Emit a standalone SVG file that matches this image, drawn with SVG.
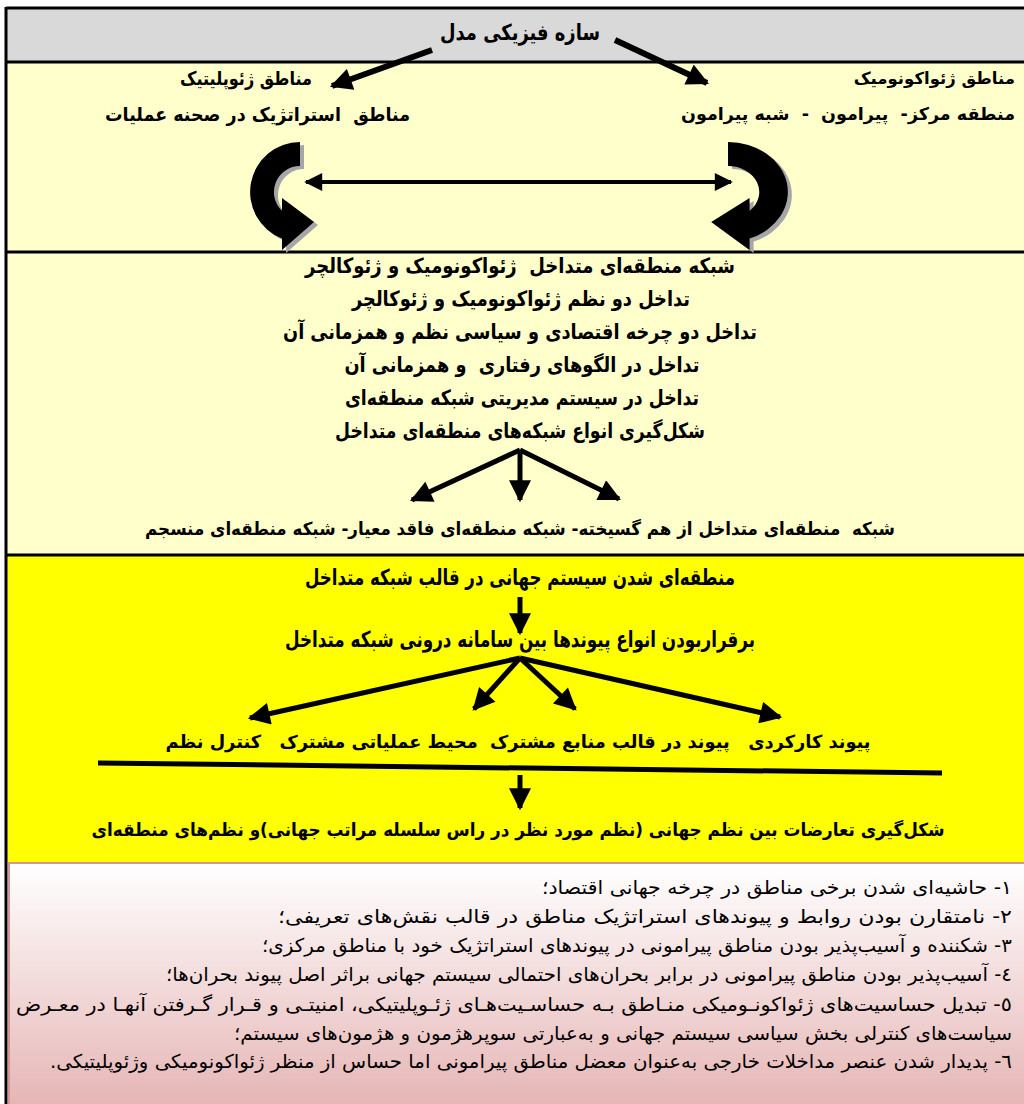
<svg xmlns="http://www.w3.org/2000/svg" width="1024" height="1104" viewBox="0 0 1024 1104">
<defs>
<style>
.b{font-family:"DejaVu Sans",sans-serif;font-weight:bold;fill:#000;direction:rtl}
.t1{font-size:22px}
.t2{font-size:19px}
.t3{font-size:21px}
.t4{font-size:22px}
.r{font-family:"DejaVu Sans",sans-serif;font-size:19px;fill:#000;direction:rtl}
.ln{stroke:#000;fill:none}
</style>
<linearGradient id="pg" x1="0" y1="0" x2="0" y2="1">
<stop offset="0" stop-color="#ffffff"/>
<stop offset="1" stop-color="#e5b3b3"/>
</linearGradient>
<marker id="ah" viewBox="0 0 10 10" refX="9" refY="5" markerUnits="userSpaceOnUse" markerWidth="24" markerHeight="22" orient="auto">
<path d="M0,0 L10,5 L0,10 Z" fill="#000"/>
</marker>
<marker id="ahs" viewBox="0 0 10 10" refX="9" refY="5" markerUnits="userSpaceOnUse" markerWidth="20" markerHeight="18" orient="auto-start-reverse">
<path d="M0,0 L10,5 L0,10 Z" fill="#000"/>
</marker>
<path id="curl" d="M300,142 A50,50 0 0 0 282,238.6 L282,250 L314,222 L282,198 L282,210.8 A26,26 0 0 1 300,166 Z"/>
</defs>

<g id="panels">
<rect x="6" y="8" width="1030" height="54" fill="#d9d9d9"/>
<rect x="6" y="62" width="1030" height="190" fill="#ffffcc"/>
<rect x="6" y="252" width="1030" height="303" fill="#ffffcc"/>
<rect x="6" y="555" width="1030" height="307" fill="#ffff00"/>
<rect x="9" y="863" width="1030" height="250" fill="url(#pg)" stroke="#d99594" stroke-width="2"/>
<line x1="6" y1="8" x2="1024" y2="8" stroke="#000" stroke-width="3"/>
<line x1="6" y1="62" x2="1024" y2="62" stroke="#000" stroke-width="3"/>
<line x1="6" y1="252" x2="1024" y2="252" stroke="#000" stroke-width="3"/>
<line x1="6" y1="555" x2="1024" y2="555" stroke="#000" stroke-width="3"/>
<line x1="6" y1="7" x2="6" y2="1104" stroke="#000" stroke-width="3"/>
</g>

<g id="n-title"><text class="b t1" x="520" y="40" text-anchor="middle" textLength="160" lengthAdjust="spacingAndGlyphs">سازه فیزیکی مدل</text></g>
<g id="n-geopolitic">
<text class="b t2" x="312" y="85" text-anchor="start" textLength="132" lengthAdjust="spacingAndGlyphs">مناطق ژئوپلیتیک</text>
<text class="b t2" x="410" y="121" text-anchor="start" textLength="305" lengthAdjust="spacingAndGlyphs">مناطق&#160; استراتژیک در صحنه عملیات</text>
</g>
<g id="n-geoeconomic">
<text class="b" style="font-size:16.5px" x="1015" y="84" text-anchor="start">مناطق ژئواکونومیک</text>
<text class="b" style="font-size:17.5px" x="1015" y="120" text-anchor="start">منطقه مرکز-&#160; پیرامون&#160; -&#160; شبه پیرامون</text>
</g>

<g id="n-curl-left">
<use href="#curl" fill="#a6a6a6" transform="translate(4,3)"/>
<use href="#curl" fill="#000"/>
</g>
<g id="n-curl-right">
<use href="#curl" fill="#a6a6a6" transform="translate(1092,3) scale(-1.2,1)"/>
<use href="#curl" fill="#000" transform="translate(1088,0) scale(-1.2,1)"/>
</g>

<g id="n-network">
<text class="b t3" x="520" y="273" text-anchor="middle" textLength="430" lengthAdjust="spacingAndGlyphs">شبکه منطقه‌ای متداخل&#160; ژئواکونومیک و ژئوکالچر</text>
<text class="b t3" x="521" y="306" text-anchor="middle" textLength="338" lengthAdjust="spacingAndGlyphs">تداخل دو نظم ژئواکونومیک و ژئوکالچر</text>
<text class="b t3" x="520" y="339" text-anchor="middle" textLength="474" lengthAdjust="spacingAndGlyphs">تداخل دو چرخه اقتصادی و سیاسی نظم و همزمانی آن</text>
<text class="b t3" x="522" y="372" text-anchor="middle" textLength="355" lengthAdjust="spacingAndGlyphs">تداخل در الگوهای رفتاری&#160; و همزمانی آن</text>
<text class="b t3" x="522" y="405" text-anchor="middle" textLength="354" lengthAdjust="spacingAndGlyphs">تداخل در سیستم مدیریتی شبکه منطقه‌ای</text>
<text class="b t3" x="520" y="438" text-anchor="middle" textLength="370" lengthAdjust="spacingAndGlyphs">شکل‌گیری انواع شبکه‌های منطقه‌ای متداخل</text>
</g>
<g id="n-network-types">
<text class="b" style="font-size:18px" x="520" y="535" text-anchor="middle" textLength="750" lengthAdjust="spacingAndGlyphs">شبکه&#160; منطقه‌ای متداخل از هم گسیخته- شبکه منطقه‌ای فاقد معیار- شبکه منطقه‌ای منسجم</text>
</g>

<g id="n-regionalization">
<text class="b t4" x="520" y="585" text-anchor="middle" textLength="430" lengthAdjust="spacingAndGlyphs">منطقه‌ای شدن سیستم جهانی در قالب شبکه متداخل</text>
</g>
<g id="n-links">
<text class="b t4" x="520" y="647" text-anchor="middle" textLength="470" lengthAdjust="spacingAndGlyphs">برقراربودن انواع پیوندها بین سامانه درونی شبکه متداخل</text>
</g>
<g id="n-link-types">
<text class="b" style="font-size:18px" x="518" y="748" text-anchor="middle" textLength="705" lengthAdjust="spacingAndGlyphs">پیوند کارکردی&#160;&#160; پیوند در قالب منابع مشترک&#160; محیط عملیاتی مشترک&#160;&#160; کنترل نظم</text>
</g>
<g id="n-conflict">
<text class="b" style="font-size:18px" x="518" y="836" text-anchor="middle" textLength="853" lengthAdjust="spacingAndGlyphs">شکل‌گیری تعارضات بین نظم جهانی (نظم مورد نظر در راس سلسله مراتب جهانی)و نظم‌های منطقه‌ای</text>
</g>

<g id="n-consequences">
<text class="r" x="1012" y="894" text-anchor="start" textLength="470" lengthAdjust="spacingAndGlyphs">۱- حاشیه‌ای شدن برخی مناطق در چرخه جهانی اقتصاد؛</text>
<text class="r" x="1012" y="923" text-anchor="start" textLength="734" lengthAdjust="spacingAndGlyphs">۲- نامتقارن بودن روابط و پیوندهای استراتژیک مناطق در قالب نقش‌های تعریفی؛</text>
<text class="r" x="1012" y="952" text-anchor="start" textLength="750" lengthAdjust="spacingAndGlyphs">۳- شکننده و آسیب‌پذیر بودن مناطق پیرامونی در پیوندهای استراتژیک خود با مناطق مرکزی؛</text>
<text class="r" x="1012" y="981" text-anchor="start" textLength="846" lengthAdjust="spacingAndGlyphs">٤- آسیب‌پذیر بودن مناطق پیرامونی در برابر بحران‌های احتمالی سیستم جهانی براثر اصل پیوند بحران‌ها؛</text>
<text class="r" x="1012" y="1011" text-anchor="start" textLength="996" lengthAdjust="spacingAndGlyphs">٥- تبدیل حساسیت‌های ژئواکونـومیکی منـاطق بـه حساسـیت‌هـای ژئـوپلیتیکی، امنیتـی و قـرار گـرفتن آنهـا در معـرض</text>
<text class="r" x="1012" y="1040" text-anchor="start" textLength="778" lengthAdjust="spacingAndGlyphs">سیاست‌های کنترلی بخش سیاسی سیستم جهانی و به‌عبارتی سوپرهژمون و هژمون‌های سیستم؛</text>
<text class="r" x="1012" y="1068" text-anchor="start" textLength="962" lengthAdjust="spacingAndGlyphs">٦- پدیدار شدن عنصر مداخلات خارجی به‌عنوان معضل مناطق پیرامونی اما حساس از منظر ژئواکونومیکی وژئوپلیتیکی.</text>
</g>

<g id="connectors" class="ln">
<line x1="615" y1="40" x2="707" y2="83" stroke-width="6" marker-end="url(#ah)"/>
<line x1="432" y1="50" x2="332" y2="86" stroke-width="6" marker-end="url(#ah)"/>
<line x1="306" y1="182" x2="731" y2="182" stroke-width="4" marker-start="url(#ahs)" marker-end="url(#ahs)"/>
<line x1="520" y1="450" x2="412" y2="500" stroke-width="5" marker-end="url(#ah)"/>
<line x1="520" y1="450" x2="520" y2="500" stroke-width="5" marker-end="url(#ah)"/>
<line x1="520" y1="450" x2="619" y2="499" stroke-width="5" marker-end="url(#ah)"/>
<line x1="520" y1="597" x2="520" y2="633" stroke-width="5" marker-end="url(#ah)"/>
<line x1="520" y1="658" x2="250" y2="718" stroke-width="5" marker-end="url(#ah)"/>
<line x1="520" y1="658" x2="474" y2="709" stroke-width="5" marker-end="url(#ah)"/>
<line x1="520" y1="658" x2="575" y2="709" stroke-width="5" marker-end="url(#ah)"/>
<line x1="520" y1="658" x2="780" y2="717" stroke-width="5" marker-end="url(#ah)"/>
<line x1="98" y1="763" x2="942" y2="773" stroke-width="5"/>
<line x1="520" y1="775" x2="520" y2="808" stroke-width="5" marker-end="url(#ah)"/>
</g>
</svg>
